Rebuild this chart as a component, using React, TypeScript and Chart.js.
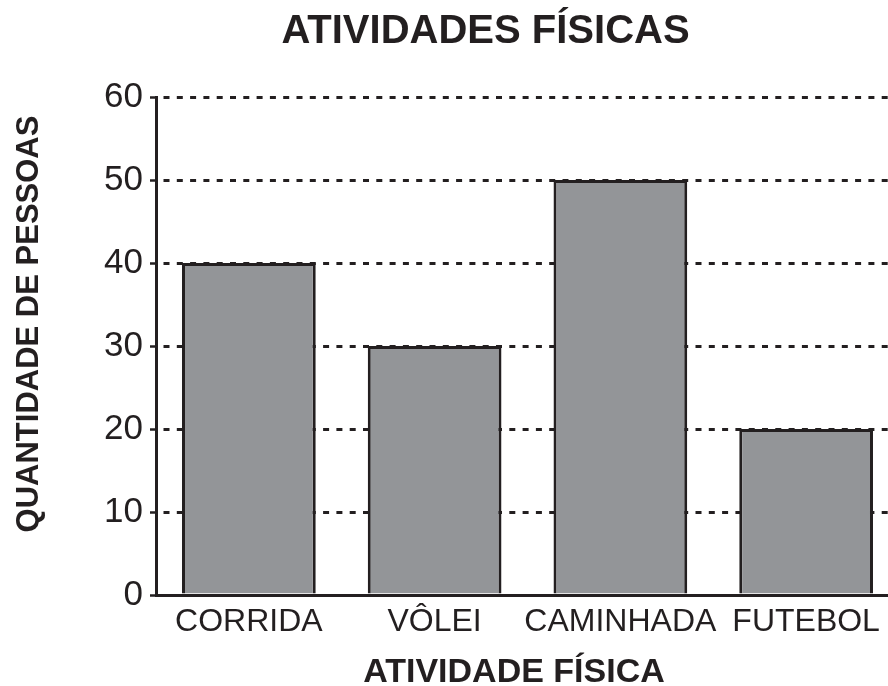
import React, { useEffect, useRef } from "react";
import { Chart, registerables } from "chart.js";

Chart.register(...registerables);

const categories = ["CORRIDA", "VÔLEI", "CAMINHADA", "FUTEBOL"];
const values = [40, 30, 50, 20];
const yMin = 0;
const yMax = 60;
const yStep = 10;

const TITLE = "ATIVIDADES FÍSICAS";
const X_TITLE = "ATIVIDADE FÍSICA";
const Y_TITLE = "QUANTIDADE DE PESSOAS";

const INK = "#231f20";
const BAR = "#939598";
const FONT = '"Liberation Sans", Arial, Helvetica, sans-serif';

const textPlugin = {
  id: "textPlugin",
  afterDraw(chart: any) {
    const ctx = chart.ctx as CanvasRenderingContext2D;
    ctx.save();
    ctx.fillStyle = INK;
    ctx.textAlign = "center";
    ctx.textBaseline = "alphabetic";
    ctx.font = `bold 40px ${FONT}`;
    ctx.fillText(TITLE, 485.5, 43);
    ctx.font = `bold 34px ${FONT}`;
    ctx.fillText(X_TITLE, 514, 682);
    ctx.translate(38, 324);
    ctx.rotate(-Math.PI / 2);
    ctx.font = `bold 31px ${FONT}`;
    ctx.fillText(Y_TITLE, 0, 0);
    ctx.restore();
  },
};

export default function App() {
  const ref = useRef<HTMLCanvasElement | null>(null);

  useEffect(() => {
    if (!ref.current) return;
    const chart = new Chart(ref.current, {
      type: "bar",
      data: {
        labels: categories,
        datasets: [
          {
            data: values,
            backgroundColor: BAR,
            borderColor: INK,
            borderWidth: 3,
            barPercentage: 0.72,
            categoryPercentage: 1,
          },
        ],
      },
      plugins: [textPlugin],
      options: {
        animation: false,
        responsive: false,
        devicePixelRatio: 1,
        layout: { padding: { top: 97, right: 1, bottom: 0, left: 0 } },
        plugins: {
          legend: { display: false },
          tooltip: { enabled: false },
          title: { display: false },
        },
        scales: {
          x: {
            offset: true,
            grid: { display: false, drawTicks: false },
            border: { display: true, color: INK, width: 3 },
            ticks: {
              color: INK,
              padding: 8,
              font: { family: FONT, size: 32 },
              maxRotation: 0,
              autoSkip: false,
            },
            afterFit: (s: any) => {
              s.height = 91;
            },
          },
          y: {
            min: yMin,
            max: yMax,
            grid: {
              color: INK,
              lineWidth: 3,
              drawTicks: true,
              tickLength: 6,
              tickColor: INK,
              tickWidth: 2.5,
              tickBorderDash: [],
            },
            border: {
              display: true,
              color: INK,
              width: 3,
              dash: [6, 7.3],
              dashOffset: 7.8,
            },
            ticks: {
              stepSize: yStep,
              color: INK,
              padding: 7,
              font: { family: FONT, size: 35 },
            },
            afterFit: (s: any) => {
              s.width = 156;
            },
          },
        },
      },
    });
    return () => chart.destroy();
  }, []);

  return (
    <div
      style={{
        position: "absolute",
        left: 0,
        top: 0,
        width: 888,
        height: 686,
        overflow: "hidden",
        background: "#fff",
      }}
    >
      <canvas ref={ref} width={900} height={686} style={{ display: "block", width: 900, height: 686 }} />
    </div>
  );
}
